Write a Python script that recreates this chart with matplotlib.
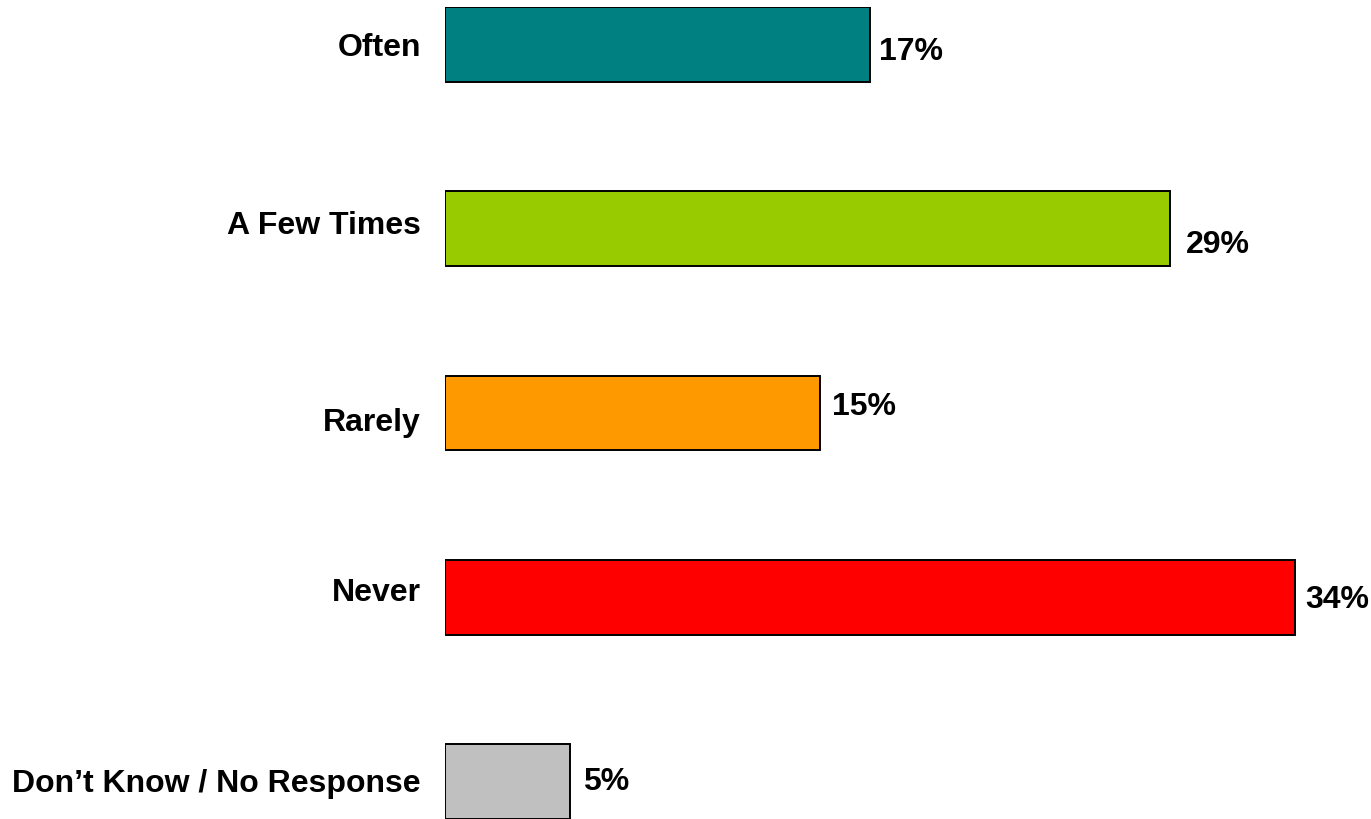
import matplotlib.pyplot as plt
import numpy as np

categories = ['Often', 'A Few Times', 'Rarely', 'Never', 'Don\u2019t Know / No Response']
values = [17, 29, 15, 34, 5]
value_labels = ['17%', '29%', '15%', '34%', '5%']
colors = ['#008080', '#99CC00', '#FF9900', '#FF0000', '#C0C0C0']

# small nudges (pixels) so the labels sit where the original has them
val_dx = [9, 16, 12, 10, 13]
val_dy = [-7, -15, 7, -2, 1]
cat_dy = [-3, 4, -9, 5, -1]

plt.rcParams['font.family'] = ['Liberation Sans', 'DejaVu Sans']

fig = plt.figure(figsize=(13.71, 8.2), dpi=100)
ax = fig.add_axes([445 / 1371, 0, (1371 - 445) / 1371, 812 / 820])

y = np.arange(len(categories))
h = 0.407
ax.barh(y, values, height=h, color=colors, edgecolor='black', linewidth=1.4)

for i in range(len(values)):
    ax.annotate(value_labels[i], (values[i], y[i]), xytext=(val_dx[i], val_dy[i]),
                textcoords='offset pixels', ha='left', va='center',
                fontsize=23, fontweight='bold')
    ax.annotate(categories[i], (0, y[i]), xytext=(-24, cat_dy[i]),
                textcoords='offset pixels', ha='right', va='center',
                fontsize=23, fontweight='bold', annotation_clip=False)

ax.set_xlim(0, (1371 - 445) / 25)
ax.set_ylim(len(categories) - 1 + h / 2, -h / 2)
ax.axis('off')

plt.savefig('out.png', dpi=100)
